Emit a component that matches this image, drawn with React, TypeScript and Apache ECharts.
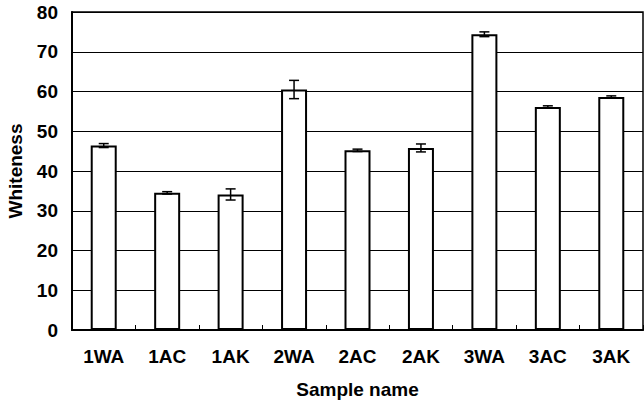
import React, { useEffect, useRef } from "react";
import * as echarts from "echarts";

const categories = ["1WA", "1AC", "1AK", "2WA", "2AC", "2AK", "3WA", "3AC", "3AK"];
const whiteness = [46.4, 34.5, 34.1, 60.5, 45.2, 45.8, 74.4, 56.1, 58.6];
const errors = [0.5, 0.3, 1.4, 2.3, 0.3, 1.0, 0.6, 0.3, 0.3];
const yTicks = [0, 10, 20, 30, 40, 50, 60, 70, 80];

const FONT = "Liberation Sans, Arial, sans-serif";

export default function App() {
  const ref = useRef<HTMLDivElement>(null);
  useEffect(() => {
    if (!ref.current) return;
    const chart = echarts.init(ref.current, undefined, { renderer: "svg" });
    const errData = whiteness.map((v, i) => [i, v - errors[i], v + errors[i]]);
    chart.setOption({
      animation: false,
      backgroundColor: "#ffffff",
      grid: {
        left: 72,
        right: 1,
        top: 12,
        bottom: 71,
        show: true,
        borderColor: "#000",
        borderWidth: 1.5,
        backgroundColor: "transparent",
        containLabel: false,
        outerBoundsMode: "none",
      },
      xAxis: {
        type: "category",
        data: categories,
        name: "Sample name",
        nameLocation: "middle",
        nameGap: 50,
        nameTextStyle: { fontFamily: FONT, fontWeight: "bold", fontSize: 19, color: "#000" },
        axisLine: { show: true, lineStyle: { color: "#000", width: 2 } },
        axisTick: { show: true, inside: true, length: 5, lineStyle: { color: "#000", width: 1 } },
        axisLabel: { fontFamily: FONT, fontWeight: "bold", fontSize: 19, color: "#000", margin: 17 },
      },
      yAxis: {
        type: "value",
        min: 0,
        max: 80,
        interval: 10,
        name: "Whiteness",
        nameLocation: "middle",
        nameGap: 47,
        nameRotate: 90,
        nameTextStyle: { fontFamily: FONT, fontWeight: "bold", fontSize: 19, color: "#000" },
        axisLine: { show: true, lineStyle: { color: "#000", width: 2 } },
        axisTick: { show: false },
        axisLabel: {
          fontFamily: FONT,
          fontWeight: "bold",
          fontSize: 19,
          color: "#000",
          margin: 14,
          formatter: (v: number) => (yTicks.includes(v) ? String(v) : ""),
        },
        splitLine: { show: true, lineStyle: { color: "#000", width: 1 } },
      },
      series: [
        {
          type: "bar",
          data: whiteness,
          barWidth: 26,
          itemStyle: { color: "#ffffff", borderColor: "#000", borderWidth: 2 },
          z: 2,
        },
        {
          type: "custom",
          data: errData,
          z: 3,
          renderItem: (params: any, api: any) => {
            const i = api.value(0);
            const lo = api.coord([i, api.value(1)]);
            const hi = api.coord([i, api.value(2)]);
            const hw = 5;
            const style = { stroke: "#000", lineWidth: 1.5 };
            return {
              type: "group",
              children: [
                { type: "line", shape: { x1: hi[0], y1: hi[1], x2: lo[0], y2: lo[1] }, style },
                { type: "line", shape: { x1: hi[0] - hw, y1: hi[1], x2: hi[0] + hw, y2: hi[1] }, style },
                { type: "line", shape: { x1: lo[0] - hw, y1: lo[1], x2: lo[0] + hw, y2: lo[1] }, style },
              ],
            };
          },
        },
      ],
    });
    return () => chart.dispose();
  }, []);
  return (
    <div
      ref={ref}
      style={{ position: "fixed", left: 0, top: 0, width: 644, height: 401 }}
    />
  );
}
